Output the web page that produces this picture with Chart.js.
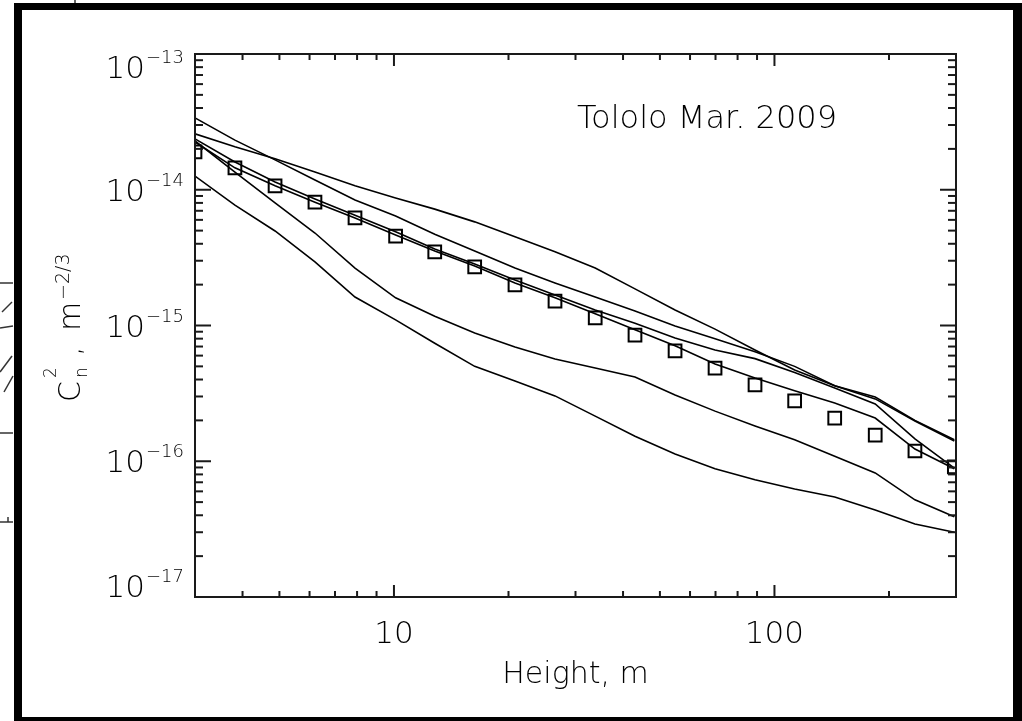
<!DOCTYPE html>
<html>
<head>
<meta charset="utf-8">
<script src="https://cdn.jsdelivr.net/npm/chart.js@4.4.1/dist/chart.umd.min.js"></script>
<style>
  html, body { margin: 0; padding: 0; background: #fff; overflow: hidden; }
  canvas { display: block; }
</style>
</head>
<body>
<canvas id="cn2" width="1022" height="721"></canvas>
<script>
// heights of the profile levels, m
const heights = [3.0, 3.82, 4.87, 6.2, 7.9, 10.1, 12.8, 16.3, 20.8, 26.5, 33.8, 43.0, 54.8, 69.8, 88.9, 113, 144, 184, 234, 297];

// Cn2 profiles, m^-2/3
const profileA = [2.58e-14, 2.07e-14, 1.69e-14, 1.35e-14, 1.07e-14, 8.7e-15, 7.2e-15, 5.8e-15, 4.5e-15, 3.5e-15, 2.65e-15, 1.86e-15, 1.30e-15, 9.4e-16, 6.6e-16, 4.7e-16, 3.6e-16, 2.97e-16, 2.0e-16, 1.44e-16];
const profileB = [3.38e-14, 2.32e-14, 1.66e-14, 1.18e-14, 8.4e-15, 6.4e-15, 4.7e-15, 3.54e-15, 2.65e-15, 2.06e-15, 1.62e-15, 1.28e-15, 9.9e-16, 8.0e-16, 6.4e-16, 5.0e-16, 3.6e-16, 2.88e-16, 1.98e-16, 1.41e-16];
const profileC = [2.37e-14, 1.60e-14, 1.14e-14, 8.55e-15, 6.5e-15, 4.9e-15, 3.66e-15, 2.84e-15, 2.16e-15, 1.68e-15, 1.30e-15, 1.04e-15, 8.1e-16, 6.6e-16, 5.7e-16, 4.5e-16, 3.47e-16, 2.64e-16, 1.46e-16, 8.9e-17];
const profileD = [2.25e-14, 1.45e-14, 1.07e-14, 8.1e-15, 6.2e-15, 4.65e-15, 3.54e-15, 2.74e-15, 2.06e-15, 1.60e-15, 1.22e-15, 9.3e-16, 7.1e-16, 5.2e-16, 4.1e-16, 3.3e-16, 2.69e-16, 2.08e-16, 1.23e-16, 8.8e-17];
const profileE = [2.29e-14, 1.35e-14, 8.0e-15, 4.8e-15, 2.65e-15, 1.60e-15, 1.17e-15, 8.8e-16, 6.95e-16, 5.66e-16, 4.86e-16, 4.18e-16, 3.08e-16, 2.34e-16, 1.82e-16, 1.44e-16, 1.09e-16, 8.2e-17, 5.2e-17, 3.9e-17];
const profileF = [1.26e-14, 7.7e-15, 4.97e-15, 2.94e-15, 1.62e-15, 1.10e-15, 7.4e-16, 5.0e-16, 3.9e-16, 3.03e-16, 2.15e-16, 1.53e-16, 1.13e-16, 8.8e-17, 7.3e-17, 6.25e-17, 5.46e-17, 4.38e-17, 3.45e-17, 3.0e-17];

// median profile (squares)
const median = [1.90e-14, 1.45e-14, 1.07e-14, 8.1e-15, 6.2e-15, 4.56e-15, 3.48e-15, 2.70e-15, 1.99e-15, 1.51e-15, 1.14e-15, 8.5e-16, 6.5e-16, 4.86e-16, 3.65e-16, 2.78e-16, 2.08e-16, 1.56e-16, 1.19e-16, 9.1e-17];

// axis ticks
const xMajor = [10, 100];
const xMinor = [4, 5, 6, 7, 8, 9, 20, 30, 40, 50, 60, 70, 80, 90, 200];
const yExponents = [-13, -14, -15, -16, -17];
const yMinorSteps = [2, 3, 4, 5, 6, 7, 8, 9];

const FONT = '"DejaVu Sans", sans-serif';
const INK = '#000';

const pts = (vals) => heights.map((h, i) => ({ x: h, y: vals[i] }));

function label(ctx, s, x, y, size, align) {
  ctx.font = `200 ${size}px ${FONT}`;
  ctx.textAlign = align || 'left';
  ctx.textBaseline = 'alphabetic';
  ctx.fillText(s, x, y);
  return ctx.measureText(s).width;
}

function seg(ctx, x1, y1, x2, y2) {
  ctx.beginPath();
  ctx.moveTo(x1, y1);
  ctx.lineTo(x2, y2);
  ctx.stroke();
}

// page frame and the bits of the neighbouring panel
const framePlugin = {
  id: 'frame',
  beforeDraw(chart) {
    const { ctx, width, height } = chart;
    ctx.save();
    ctx.fillStyle = '#fff';
    ctx.fillRect(0, 0, width, height);
    ctx.fillStyle = '#000';
    ctx.fillRect(14, 3, width - 14, height - 3);
    ctx.fillStyle = '#fff';
    ctx.fillRect(22, 10, 991, 707);
    ctx.strokeStyle = '#333';
    ctx.lineWidth = 1.5;
    seg(ctx, 75, 0, 75, 3);
    seg(ctx, 0, 283, 13, 283);
    seg(ctx, 2, 312, 12, 302);
    seg(ctx, 0, 328, 13, 326);
    seg(ctx, 0, 372, 12, 356);
    seg(ctx, 4, 392, 13, 376);
    seg(ctx, 0, 433, 13, 433);
    seg(ctx, 0, 522, 13, 522);
    seg(ctx, 8, 517, 8, 522);
    ctx.restore();
  }
};

// box axes with inward ticks and IDL-style labels
const axesPlugin = {
  id: 'axes',
  afterDatasetsDraw(chart) {
    const { ctx, chartArea: a, scales: { x, y } } = chart;
    ctx.save();
    ctx.strokeStyle = '#1a1a1a';
    ctx.lineWidth = 2;
    ctx.strokeRect(a.left, a.top, a.right - a.left, a.bottom - a.top);

    xMajor.forEach(v => {
      const px = x.getPixelForValue(v);
      seg(ctx, px, a.bottom, px, a.bottom - 12);
      seg(ctx, px, a.top, px, a.top + 12);
    });
    xMinor.forEach(v => {
      const px = x.getPixelForValue(v);
      seg(ctx, px, a.bottom, px, a.bottom - 6);
      seg(ctx, px, a.top, px, a.top + 6);
    });
    yExponents.forEach(e => {
      const py = y.getPixelForValue(Math.pow(10, e));
      seg(ctx, a.left, py, a.left + 16, py);
      seg(ctx, a.right, py, a.right - 16, py);
      if (e === -13) return;
      yMinorSteps.forEach(m => {
        const pm = y.getPixelForValue(m * Math.pow(10, e));
        seg(ctx, a.left, pm, a.left + 8, pm);
        seg(ctx, a.right, pm, a.right - 8, pm);
      });
    });

    ctx.fillStyle = INK;
    // y tick labels: 10^-n
    yExponents.forEach(e => {
      const py = y.getPixelForValue(Math.pow(10, e));
      const cy = Math.min(Math.max(py, a.top + 13), a.bottom - 11);
      const base = cy + 11;
      const sup = '\u2212' + String(-e);
      ctx.font = `200 18px ${FONT}`;
      const supW = ctx.measureText(sup).width;
      const right = a.left - 11;
      label(ctx, sup, right - supW, base - 15, 18);
      label(ctx, '10', right - supW - 1, base, 31, 'right');
    });
    // x tick labels
    xMajor.forEach(v => {
      label(ctx, String(v), x.getPixelForValue(v), 643, 31, 'center');
    });
    // axis titles
    label(ctx, 'Height, m', (a.left + a.right) / 2, 683, 30, 'center');

    ctx.save();
    ctx.translate(80, 402);
    ctx.rotate(-Math.PI / 2);
    label(ctx, 'C', 0, 0, 30);
    label(ctx, '2', 24, -24, 17);
    label(ctx, 'n', 24, 7, 17);
    label(ctx, ',', 46, 0, 30);
    label(ctx, 'm', 71, 0, 30);
    label(ctx, '\u22122/3', 102, -11, 19);
    ctx.restore();

    label(ctx, 'Tololo Mar. 2009', 577, 128, 32);
    ctx.restore();
  }
};

const lineStyle = {
  showLine: true,
  borderColor: '#000',
  borderWidth: 1.6,
  pointRadius: 0,
  tension: 0,
  fill: false
};

new Chart(document.getElementById('cn2'), {
  type: 'scatter',
  data: {
    datasets: [
      { ...lineStyle, data: pts(profileA) },
      { ...lineStyle, data: pts(profileB) },
      { ...lineStyle, data: pts(profileC) },
      { ...lineStyle, data: pts(profileD) },
      { ...lineStyle, data: pts(profileE) },
      { ...lineStyle, data: pts(profileF) },
      {
        data: pts(median),
        showLine: false,
        pointStyle: 'rect',
        pointRadius: 9,
        pointBorderWidth: 2,
        pointBorderColor: '#000',
        pointBackgroundColor: 'rgba(0,0,0,0)'
      }
    ]
  },
  options: {
    responsive: false,
    animation: false,
    events: [],
    layout: { padding: { left: 195, right: 66, top: 54, bottom: 124 } },
    plugins: { legend: { display: false }, tooltip: { enabled: false } },
    scales: {
      x: { type: 'logarithmic', min: 3, max: 300, display: false },
      y: { type: 'logarithmic', min: 1e-17, max: 1e-13, display: false }
    }
  },
  plugins: [framePlugin, axesPlugin]
});
</script>
</body>
</html>
